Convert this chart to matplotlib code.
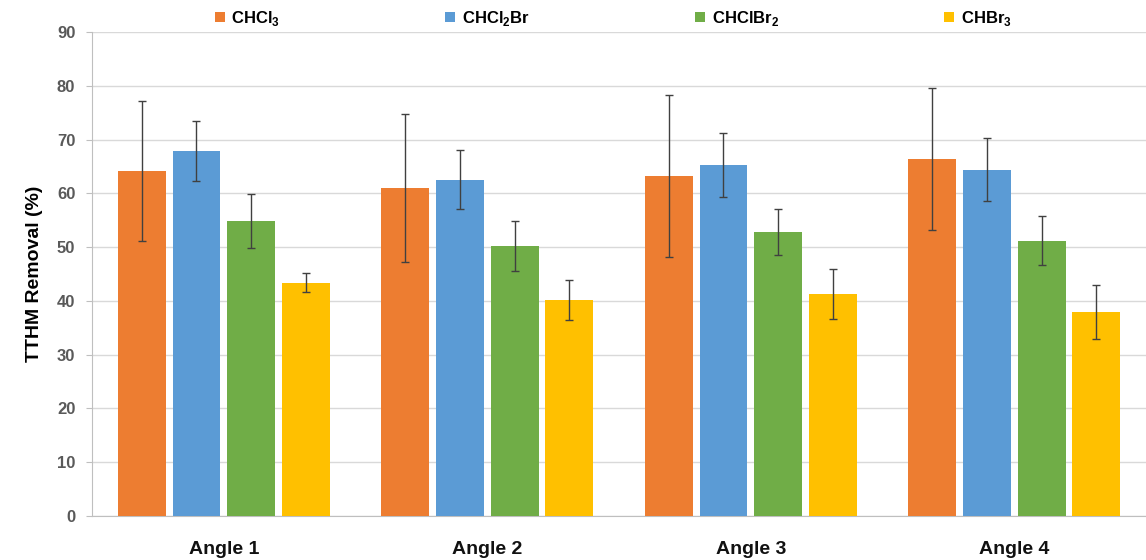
#Recreate grouped bar chart of TTHM removal per angle with error bars
import numpy as np
import matplotlib.pyplot as plt

#Data
angles = ['Angle 1', 'Angle 2', 'Angle 3', 'Angle 4']
species = [r'CHCl$_\mathbf{3}$', r'CHCl$_\mathbf{2}$Br', r'CHClBr$_\mathbf{2}$', r'CHBr$_\mathbf{3}$']
chcl3 = [64.1, 61.0, 63.2, 66.4]
chcl2br = [67.8, 62.5, 65.3, 64.4]
chclbr2 = [54.8, 50.2, 52.8, 51.2]
chbr3 = [43.4, 40.2, 41.3, 37.9]
chcl3_err = [13.0, 13.7, 15.0, 13.2]
chcl2br_err = [5.6, 5.5, 6.0, 5.8]
chclbr2_err = [5.0, 4.7, 4.2, 4.5]
chbr3_err = [1.8, 3.7, 4.7, 5.0]
yticks = [0, 10, 20, 30, 40, 50, 60, 70, 80, 90]

colors = ['#ED7D31', '#5B9BD5', '#70AD47', '#FFC000']
values = [chcl3, chcl2br, chclbr2, chbr3]
errors = [chcl3_err, chcl2br_err, chclbr2_err, chbr3_err]

plt.rcParams['font.family'] = ['Liberation Sans', 'DejaVu Sans']
plt.rcParams['font.weight'] = 'bold'
plt.rcParams['mathtext.fontset'] = 'custom'
plt.rcParams['mathtext.bf'] = 'Liberation Sans:bold'
plt.rcParams['mathtext.rm'] = 'Liberation Sans:bold'

fig = plt.figure(figsize=(11.46, 5.6), dpi=100)
ax = fig.add_axes([0.0803, 0.0786, 0.9197, 0.8643])

x = np.arange(len(angles))
width = 0.182
pitch = 0.207
for i in range(len(species)):
    offs = (i - 1.5) * pitch
    ax.bar(x + offs, values[i], width, color=colors[i], label=species[i],
           yerr=errors[i], zorder=3,
           error_kw=dict(ecolor='#404040', elinewidth=1, capsize=3, capthick=1))

ax.set_xlim(-0.5, 3.5)
ax.set_ylim(0, 90)
ax.set_yticks(yticks)
ax.set_xticks(x)
ax.set_xticklabels(angles, fontsize=14, fontweight='bold', color='#111111')
ax.tick_params(axis='x', length=0, pad=18)
ax.tick_params(axis='y', length=4, color='#BFBFBF', labelsize=12, labelcolor='#595959', pad=8)
for lbl in ax.get_yticklabels():
    lbl.set_fontweight('bold')
ax.set_ylabel('TTHM Removal (%)', fontsize=14, fontweight='bold', labelpad=10)

ax.grid(axis='y', color='#D9D9D9', linewidth=1, zorder=0)
for s in ['top', 'right']:
    ax.spines[s].set_visible(False)
ax.spines['left'].set_color('#BFBFBF')
ax.spines['bottom'].set_color('#BFBFBF')

fig.legend(loc='center', bbox_to_anchor=(0.535, 0.967), ncol=4, frameon=False,
           prop={'weight': 'bold', 'size': 12}, handlelength=0.6, handleheight=0.6,
           handletextpad=0.4, columnspacing=9.9)

plt.savefig('out.png', dpi=100)
plt.close()
